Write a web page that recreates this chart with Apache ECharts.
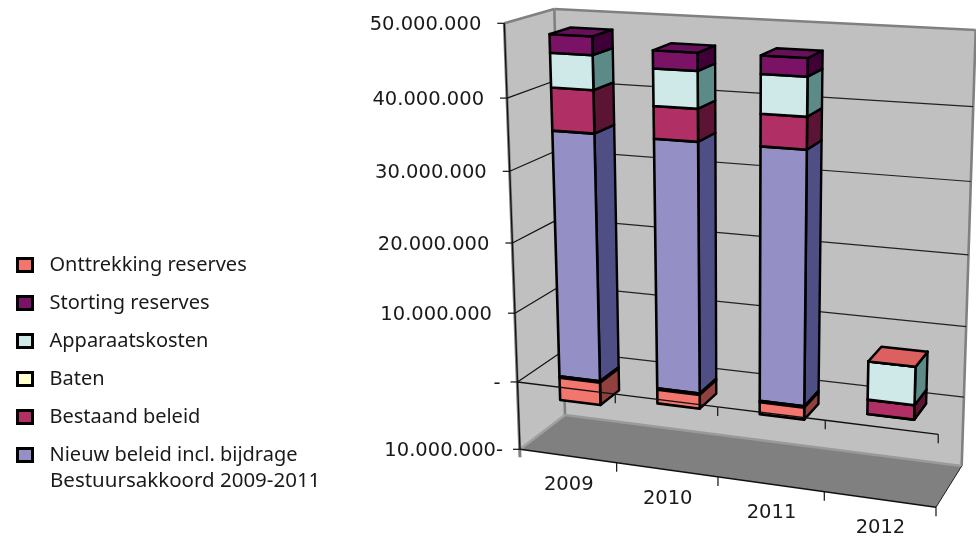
<!DOCTYPE html>
<html><head><meta charset="utf-8">
<style>html,body{margin:0;padding:0;background:#fff}#c{width:976px;height:538px}</style>
<script src="https://cdn.jsdelivr.net/npm/echarts@6/dist/echarts.min.js"></script>
</head><body><div id="c"></div>
<script>
const categories = ['2009', '2010', '2011', '2012'];
const yTickValues = [50000000, 40000000, 30000000, 20000000, 10000000, 0, -10000000];
const yTickLabels = ['50.000.000', '40.000.000', '30.000.000', '20.000.000', '10.000.000', '-', '10.000.000-'];
const nieuwBeleid = [35100000, 35000000, 35000000, 0];
const bestaandBeleid = [5900000, 4400000, 4300000, 2000000];
const baten = [-200000, -200000, -200000, 0];
const apparaatskosten = [4700000, 5000000, 5200000, 5300000];
const stortingReserves = [2500000, 2400000, 2400000, 0];
const onttrekkingReserves = [-3300000, -2000000, -1700000, 0];

const seriesNames = ['Nieuw beleid incl. bijdrage\nBestuursakkoord 2009-2011', 'Bestaand beleid', 'Baten', 'Apparaatskosten', 'Storting reserves', 'Onttrekking reserves'];
const seriesValues = [nieuwBeleid, bestaandBeleid, baten, apparaatskosten, stortingReserves, onttrekkingReserves];
const frontColors = ['#9490c6', '#b03065', '#ffffcc', '#cfe8e8', '#7a1266', '#f2766e'];
const sideColors = ['#4f4f86', '#5c1435', '#808066', '#5c8a86', '#3f0038', '#913f3f'];
const topColors = ['#7c78aa', '#94284f', '#e0e0b0', '#b0cccc', '#66105a', '#dd6060'];

// perspective frame of the 3D box (x along categories, y along values, z in depth)
const C = {
  '000': [520, 449.3], '100': [936, 507.3], '010': [504.3, 23.3], '110': [950, 46],
  '001': [565, 415], '101': [961.7, 466], '011': [554.3, 9], '111': [975.7, 30]
};
const wx = 0.908, wy = 0.939, wz = 1.0553;
const warp = (f, w) => w * f / (1 + f * (w - 1));
function project(fx, fy, fz) {
  const a = warp(fx, wx), b = warp(fy, wy), c = warp(fz, wz);
  const out = [0, 0];
  for (const k in C) {
    const w = (k[0] === '1' ? a : 1 - a) * (k[1] === '1' ? b : 1 - b) * (k[2] === '1' ? c : 1 - c);
    out[0] += w * C[k][0]; out[1] += w * C[k][1];
  }
  return out;
}
const GRID = { left: 100, top: 20, width: 800, height: 480 };
const fxOf = px => (px - GRID.left) / GRID.width;
const fyOf = py => (GRID.top + GRID.height - py) / GRID.height;
const poly = (pts, fill, stroke, lw) => ({ type: 'polygon', shape: { points: pts }, style: { fill, stroke: stroke || null, lineWidth: lw || 0, lineJoin: 'round' }, silent: true });
const line = (a, b, stroke, lw) => ({ type: 'line', shape: { x1: a[0], y1: a[1], x2: b[0], y2: b[1] }, style: { stroke, lineWidth: lw, fill: null }, silent: true });
const FONT = 'DejaVu Sans';
const TXT = '#1a1a1a';

function renderWalls() {
  const g = '#808080';
  return { type: 'group', children: [
    poly([project(0,0,0), project(0,1,0), project(0,1,1), project(0,0,1)], '#c0c0c0'),
    poly([project(0,0,1), project(0,1,1), project(1,1,1), project(1,0,1)], '#c0c0c0'),
    poly([project(0,0,0), project(1,0,0), project(1,0,1), project(0,0,1)], '#808080'),
    line(project(0,1,0), project(0,1,1), g, 2.6),
    line(project(0,1,1), project(1,1,1), g, 2.6),
    line(project(0,1,1), project(0,0,1), g, 2.6),
    line(project(1,1,1), project(1,0,1), g, 2.6),
    line(project(0,0,1), project(1,0,1), '#9a9a9a', 2.6),
    line(project(0,0,0), project(0,0,1), '#a0a0a0', 2.6),
    line(project(1,0,0), project(1,0,1), '#202020', 1),
    line(project(0,1,0), [project(0,0,0)[0], project(0,0,0)[1] + 8], g, 3),
    line(project(0,1,0), project(0,0,0), '#111', 1.3),
    line(project(0,0,0), project(1,0,0), '#111', 1.5)
  ] };
}
function renderYTick(params, api) {
  const v = api.value(0);
  const fy = fyOf(api.coord([0, v])[1]);
  const label = yTickLabels[params.dataIndex];
  const a = project(0, fy, 0), b = project(0, fy, 1), c = project(1, fy, 1);
  const kids = [line([a[0] - 7, a[1]], a, '#111', 1.2)];
  if (fy > 0 && fy < 1) { kids.push(line(a, b, '#111', 1.2), line(b, c, '#222', 1.2)); }
  kids.push({ type: 'text', x: a[0] - (label.endsWith('-') ? 17 : 23), y: a[1] + 1.5, silent: true,
    style: { text: label, fontFamily: FONT, fontSize: 19.5, fill: TXT, textAlign: 'right', textVerticalAlign: 'middle' } });
  return { type: 'group', children: kids };
}
function renderXAxis(params, api) {
  const i = params.dataIndex;
  const cx = api.coord([i, 0]), half = api.size([1, 0])[0] / 2;
  const fy0 = fyOf(cx[1]);
  const right = fxOf(cx[0] + half), mid = fxOf(cx[0]);
  const kids = [];
  const z1 = project(fxOf(cx[0] - half), fy0, 0), z2 = project(right, fy0, 0);
  kids.push(line(z1, z2, '#111', 1.4));
  kids.push(line(z2, [z2[0], z2[1] + 9], '#111', 1.2));
  const ft = project(right, 0, 0);
  kids.push(line(ft, [ft[0], ft[1] + 9], '#111', 1.2));
  const lp = project(mid, 0, 0);
  kids.push({ type: 'text', x: lp[0] + 1, y: lp[1] + 29, silent: true,
    style: { text: categories[i], fontFamily: FONT, fontSize: 19.5, fill: TXT, textAlign: 'center', textVerticalAlign: 'middle' } });
  return { type: 'group', children: kids };
}
const BAR_HALF = 0.21, BAR_SHIFT = 0.012, Z0 = 0.28, Z1 = 0.72;
function barRenderer(si) {
  return function (params, api) {
    const cat = api.value(0), start = api.value(1), end = api.value(2);
    const p0 = api.coord([cat, start]), p1 = api.coord([cat, end]);
    const band = api.size([1, 0])[0];
    const xa = fxOf(p0[0] + band * (BAR_SHIFT - BAR_HALF)), xb = fxOf(p0[0] + band * (BAR_SHIFT + BAR_HALF));
    const lo = fyOf(Math.max(p0[1], p1[1])), hi = fyOf(Math.min(p0[1], p1[1]));
    const kids = [];
    kids.push(poly([project(xb,lo,Z0), project(xb,hi,Z0), project(xb,hi,Z1), project(xb,lo,Z1)], sideColors[si], '#000', 2.4));
    kids.push(poly([project(xa,lo,Z0), project(xa,hi,Z0), project(xb,hi,Z0), project(xb,lo,Z0)], frontColors[si], '#000', 2.6));
    const later = seriesValues.slice(si + 1).some(s => s[cat] >= 0);
    if (api.value(3) >= 0 && !later) {
      kids.push(poly([project(xa,hi,Z0), project(xa,hi,Z1), project(xb,hi,Z1), project(xb,hi,Z0)], topColors[si], '#000', 2.4));
    }
    return { type: 'group', children: kids };
  };
}
const posSum = categories.map(() => 0), negSum = categories.map(() => 0);
const barSeries = seriesNames.map((name, si) => {
  const data = seriesValues[si].map((v, c) => {
    const sum = v >= 0 ? posSum : negSum;
    const s = sum[c]; sum[c] += v;
    return [c, s, s + v, v];
  });
  return { type: 'custom', name, coordinateSystem: 'cartesian2d', renderItem: barRenderer(si), data,
    encode: { x: 0, y: [1, 2] }, itemStyle: { color: frontColors[si] }, z: 3 + si, animation: false, silent: true };
});
const splitName = seriesNames[0].split('\n');
const option = {
  animation: false,
  backgroundColor: '#fff',
  grid: { left: GRID.left, top: GRID.top, width: GRID.width, height: GRID.height },
  xAxis: { type: 'category', data: categories, show: false },
  yAxis: { type: 'value', min: -10000000, max: 50000000, interval: 10000000, show: false },
  legend: {
    orient: 'vertical', left: 11, top: 250, itemWidth: 15, itemHeight: 13, itemGap: 18, selectedMode: false,
    icon: 'rect', itemStyle: { borderColor: '#000', borderWidth: 3 },
    textStyle: { fontFamily: 'Noto Sans', fontSize: 20, color: TXT, padding: [0, 0, 0, 12] },
    formatter: n => n.split('\n')[0],
    data: seriesNames.slice().reverse()
  },
  graphic: [{ type: 'text', left: 50, top: 471, silent: true,
    style: { text: splitName[1], fontFamily: 'Noto Sans', fontSize: 20.5, fill: TXT } }],
  series: [
    { type: 'custom', name: 'frame', coordinateSystem: 'cartesian2d', renderItem: renderWalls, data: [[0, 0]], z: 0, silent: true },
    { type: 'custom', name: 'yticks', coordinateSystem: 'cartesian2d', renderItem: renderYTick, data: yTickValues.map(v => [v]), encode: { y: 0 }, z: 1, silent: true },
    ...barSeries,
    { type: 'custom', name: 'xaxis', coordinateSystem: 'cartesian2d', renderItem: renderXAxis, data: categories.map((c, i) => [i]), encode: { x: 0 }, z: 20, silent: true }
  ]
};
echarts.init(document.getElementById('c'), null, { renderer: 'canvas' }).setOption(option);
</script></body></html>
